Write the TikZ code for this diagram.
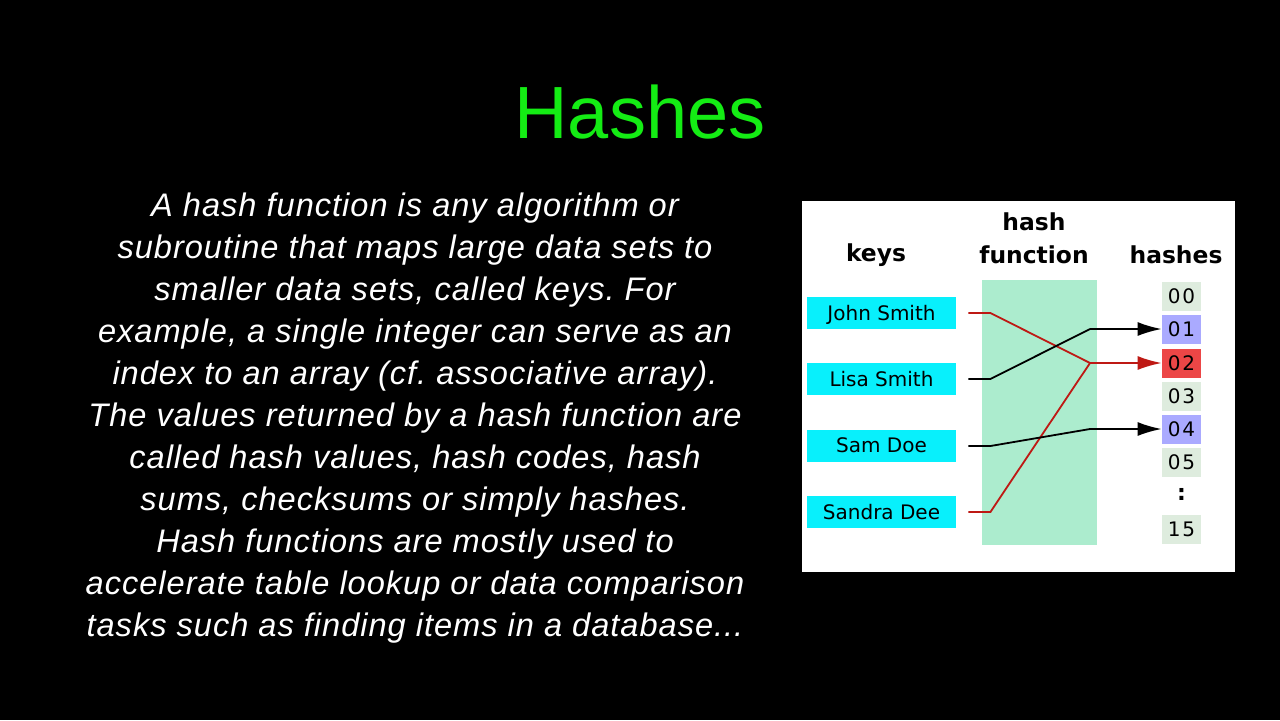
\documentclass[tikz,border=0pt]{standalone}
\usepackage{fontspec}
\setmainfont{Liberation Sans}
\newfontfamily\dejavu{DejaVu Sans}
\newfontfamily\dejavuwide[LetterSpace=8]{DejaVu Sans}
\newfontfamily\bodyfont[LetterSpace=3]{Liberation Sans}
\usetikzlibrary{arrows.meta}
\definecolor{titlegreen}{RGB}{20,236,20}
\definecolor{keycyan}{RGB}{8,240,252}
\definecolor{bandmint}{RGB}{172,236,206}
\definecolor{cellgray}{RGB}{222,236,222}
\definecolor{cellblue}{RGB}{170,170,255}
\definecolor{cellred}{RGB}{236,70,70}
\definecolor{linered}{RGB}{190,25,20}
\frenchspacing
\tikzset{
  keybox/.style={fill=keycyan, inner sep=0pt, minimum width=74.5pt, minimum height=16pt,
    text depth=0.5pt, font=\dejavu\fontsize{10}{12}\selectfont},
  cell/.style={fill=cellgray, inner sep=0pt, minimum width=19.5pt, minimum height=14.5pt,
    font=\dejavuwide\fontsize{10}{12}\selectfont},
  head/.style={align=center, font=\dejavu\bfseries\fontsize{11.7}{16.5}\selectfont},
  link/.style={line width=0.9pt},
  tip/.style={-{Latex[length=12pt,width=7pt]}}
}
\begin{document}
\begin{tikzpicture}[x=0.5pt,y=-0.5pt]
            \fill[black] (0,0) rectangle (1280,720);
            \useasboundingbox (0,0) rectangle (1280,720);
            \node[text=titlegreen, font=\fontsize{37}{44}\selectfont] (title) at (640,112) {Hashes};
            \node[text=white, align=center, font=\bodyfont\itshape\fontsize{16.3}{21}\selectfont] (body) at (415,418)
              {A hash function is any algorithm or\\
               subroutine that maps large data sets to\\
               smaller data sets, called keys. For\\
               example, a single integer can serve as an\\
               index to an array (cf. associative array).\\
               The values returned by a hash function are\\
               called hash values, hash codes, hash\\
               sums, checksums or simply hashes.\\
               Hash functions are mostly used to\\
               accelerate table lookup or data comparison\\
               tasks such as finding items in a database...};
            % diagram panel
            \node[fill=white, inner sep=0pt, minimum width=216.5pt, minimum height=185.5pt] (panel) at (1018.5,386.5) {};
            \node[head] (keys) at (876,255) {keys};
            \node[head] (hfun) at (1034,238) {hash\\function};
            \node[head] (hashes) at (1176,255) {hashes};
            \node[fill=bandmint, inner sep=0pt, minimum width=57.5pt, minimum height=132.5pt] (band) at (1039.5,412.5) {};
            \node[keybox] (john) at (881.5,313) {John Smith};
            \node[keybox] (lisa) at (881.5,379) {Lisa Smith};
            \node[keybox] (sam) at (881.5,446) {Sam Doe};
            \node[keybox] (sandra) at (881.5,512) {Sandra Dee};
            \node[cell] (h00) at (1181.5,296) {00};
            \node[cell, fill=cellblue] (h01) at (1181.5,329) {01};
            \node[cell, fill=cellred] (h02) at (1181.5,363) {02};
            \node[cell] (h03) at (1181.5,396) {03};
            \node[cell, fill=cellblue] (h04) at (1181.5,429) {04};
            \node[cell] (h05) at (1181.5,462) {05};
            \node[font=\dejavu\bfseries\fontsize{11}{12}\selectfont] (hdots) at (1181.5,494) {:};
            \node[cell] (h15) at (1181.5,529) {15};
            % junctions inside the hash function
            \coordinate (j1) at (1090,329);
            \coordinate (j2) at (1090,363);
            \coordinate (j4) at (1090,429);
            \draw[link, linered] ([xshift=6pt]john.east) -- ++(22,0) -- (j2);
            \draw[link, linered] ([xshift=6pt]sandra.east) -- ++(22,0) -- (j2);
            \draw[link, linered, tip] (j2) -- (h02.west);
            \draw[link] ([xshift=6pt]lisa.east) -- ++(22,0) -- (j1);
            \draw[link, tip] (j1) -- (h01.west);
            \draw[link] ([xshift=6pt]sam.east) -- ++(22,0) -- (j4);
            \draw[link, tip] (j4) -- (h04.west);
\end{tikzpicture}
\end{document}
